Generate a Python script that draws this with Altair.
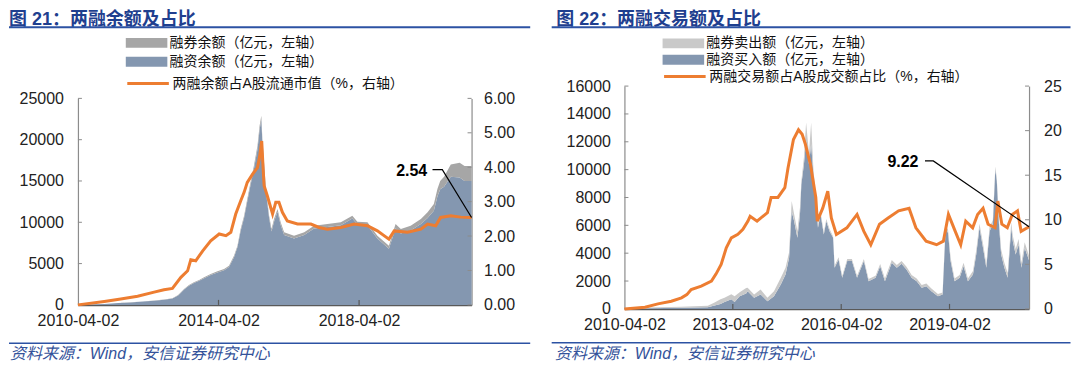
import altair as alt
import pandas as pd

# ---------------- left panel: 两融余额及占比 ----------------
L_T = [2010.25, 2010.60, 2011.00, 2011.40, 2011.75, 2012.10, 2012.42, 2012.70, 2012.94, 2013.10,
       2013.18, 2013.27, 2013.41, 2013.55, 2013.70, 2013.84, 2014.03, 2014.22, 2014.41, 2014.55,
       2014.69, 2014.79, 2014.88, 2014.98, 2015.07, 2015.17, 2015.26, 2015.36, 2015.42, 2015.47,
       2015.50, 2015.60, 2015.69, 2015.76, 2015.83, 2015.93, 2016.02, 2016.12, 2016.40, 2016.69,
       2016.97, 2017.35, 2017.73, 2018.06, 2018.20, 2018.49, 2018.77, 2019.10, 2019.29, 2019.44,
       2019.72, 2020.01, 2020.20, 2020.38, 2020.48, 2020.56, 2020.67, 2020.86, 2021.11, 2021.25,
       2021.45]
L_FIN = [0, 35, 110, 215, 300, 395, 490, 610, 760, 1140,
         1460, 1855, 2310, 2650, 2910, 3230, 3620, 3930, 4200, 4590,
         5780, 6970, 8960, 10540, 12520, 14680, 16450, 18820, 21190, 22400,
         19700, 13700, 10480, 8870, 10070, 11270, 9660, 8450, 8040, 8450,
         9250, 9440, 9650, 10450, 9720, 9650, 8050, 6800, 9290, 8650,
         9020, 9800, 10510, 11410, 13120, 13990, 14300, 15510, 15410, 15010,
         15010]
L_SHORT = [0, 5, 10, 15, 20, 25, 30, 40, 50, 60,
           70, 80, 90, 100, 110, 120, 130, 140, 150, 160,
           180, 200, 230, 260, 300, 350, 400, 450, 500, 500,
           370, 320, 320, 320, 330, 340, 340, 340, 340, 340,
           340, 350, 350, 350, 350, 350, 330, 370, 500, 540,
           570, 600, 700, 800, 900, 1000, 1200, 1500, 1800, 1800,
           1800]
L_RT = [2010.25, 2011.00, 2011.47, 2011.95, 2012.42, 2012.70, 2012.94, 2013.18, 2013.37, 2013.46,
        2013.60, 2013.80, 2014.03, 2014.27, 2014.46, 2014.60, 2014.74, 2014.88, 2014.98, 2015.07,
        2015.22, 2015.36, 2015.42, 2015.48, 2015.52, 2015.55, 2015.64, 2015.79, 2015.88, 2015.97,
        2016.07, 2016.21, 2016.50, 2016.88, 2017.11, 2017.35, 2017.73, 2018.11, 2018.49, 2018.77,
        2019.10, 2019.25, 2019.63, 2020.01, 2020.20, 2020.43, 2020.57, 2020.86, 2021.14, 2021.45]
L_RATIO = [0.00, 0.10, 0.17, 0.25, 0.37, 0.44, 0.48, 0.80, 0.99, 1.31,
           1.28, 1.57, 1.86, 2.06, 2.01, 2.11, 2.64, 3.02, 3.27, 3.56,
           3.80, 3.99, 4.30, 4.76, 4.00, 3.46, 3.17, 2.64, 2.98, 2.98,
           2.69, 2.44, 2.35, 2.35, 2.25, 2.20, 2.25, 2.35, 2.30, 2.15,
           1.91, 2.15, 2.11, 2.20, 2.35, 2.30, 2.54, 2.59, 2.55, 2.54]
L_ANN_T = [2020.34, 2020.62, 2021.45]
L_ANN_V = [3.93, 3.93, 2.54]
L_LABEL_T, L_LABEL_V, L_LABEL = 2019.75, 3.90, "2.54"

# ---------------- right panel: 两融交易额及占比 ----------------
R_T = [2010.25, 2010.91, 2011.83, 2012.56, 2012.75, 2012.91, 2013.02, 2013.21, 2013.30, 2013.44,
       2013.62, 2013.66, 2013.84, 2014.02, 2014.21, 2014.39, 2014.58, 2014.71, 2014.81, 2014.88,
       2014.95, 2015.04, 2015.11, 2015.15, 2015.22, 2015.28, 2015.36, 2015.42, 2015.48, 2015.54,
       2015.61, 2015.68, 2015.77, 2015.84, 2015.93, 2016.03, 2016.07, 2016.18, 2016.28, 2016.42,
       2016.55, 2016.69, 2016.88, 2017.01, 2017.20, 2017.33, 2017.46, 2017.65, 2017.79, 2017.92,
       2018.06, 2018.20, 2018.34, 2018.48, 2018.61, 2018.75, 2018.93, 2019.06, 2019.14, 2019.21,
       2019.28, 2019.39, 2019.53, 2019.64, 2019.76, 2019.90, 2019.99, 2020.08, 2020.18, 2020.27,
       2020.36, 2020.45, 2020.52, 2020.56, 2020.62, 2020.68, 2020.77, 2020.86, 2020.96, 2021.00,
       2021.08, 2021.16, 2021.24, 2021.33, 2021.45]
R_BUY = [0, 40, 80, 120, 250, 350, 500, 700, 500, 900,
         1100, 1270, 800, 1035, 555, 910, 1750, 2470, 3670, 7020,
         6300, 5100, 6780, 8940, 10380, 12060, 10380, 11820, 9660, 7980,
         5820, 6780, 5340, 6300, 5580, 5100, 2950, 3550, 2230, 3430,
         3430, 2230, 3430, 1990, 2230, 3070, 1990, 3310, 2950, 3240,
         2830, 2230, 1990, 1510, 1630, 1270, 910, 1035, 5700, 5460,
         3430, 1990, 2230, 3070, 1990, 2470, 3910, 5820, 4380, 2950,
         5580, 6060, 10020, 9180, 6060, 3910, 2950, 2230, 5820, 4860,
         3900, 4620, 2950, 4380, 3500]
R_SELL = [0, 60, 80, 100, 200, 350, 300, 350, 400, 300,
          400, 240, 235, 355, 240, 360, 480, 480, 400, 720,
          500, 500, 500, 240, 500, 1320, 800, 1560, 500, 300,
          200, 200, 150, 150, 150, 100, 150, 150, 150, 150,
          150, 150, 150, 150, 150, 150, 200, 200, 200, 200,
          200, 200, 200, 200, 200, 200, 150, 150, 250, 250,
          250, 200, 200, 250, 200, 250, 300, 300, 300, 250,
          300, 300, 200, 200, 300, 350, 350, 350, 400, 400,
          400, 400, 350, 400, 300]
R_RT = [2010.25, 2010.82, 2011.18, 2011.55, 2011.83, 2011.98, 2012.10, 2012.38, 2012.66, 2012.79,
        2012.93, 2013.07, 2013.21, 2013.39, 2013.53, 2013.67, 2013.73, 2013.92, 2014.21, 2014.31,
        2014.50, 2014.69, 2014.78, 2014.93, 2015.07, 2015.17, 2015.26, 2015.40, 2015.55, 2015.59,
        2015.74, 2015.88, 2015.98, 2016.12, 2016.41, 2016.69, 2016.88, 2017.07, 2017.31, 2017.55,
        2017.84, 2018.13, 2018.32, 2018.60, 2018.89, 2019.08, 2019.22, 2019.41, 2019.56, 2019.70,
        2019.89, 2020.03, 2020.18, 2020.32, 2020.51, 2020.59, 2020.70, 2020.85, 2020.99, 2021.13,
        2021.23, 2021.45]
R_RATIO = [0.00, 0.19, 0.56, 0.86, 1.24, 1.60, 2.18, 2.55, 3.11, 3.93,
           4.99, 6.85, 7.97, 8.36, 8.92, 9.85, 10.40, 9.85, 10.80, 12.50,
           12.50, 13.60, 15.80, 19.00, 20.10, 19.60, 18.50, 16.20, 12.50, 9.85,
           11.30, 13.20, 10.20, 8.35, 9.10, 10.60, 8.70, 7.20, 9.50, 10.20,
           11.00, 11.30, 9.10, 7.60, 7.20, 7.60, 10.60, 8.70, 7.20, 9.85,
           9.10, 10.60, 11.30, 9.50, 9.10, 12.10, 9.50, 9.10, 10.60, 11.00,
           8.70, 9.22]
R_ANN_T = [2018.57, 2018.80, 2021.45]
R_ANN_V = [16.6, 16.6, 9.22]
R_LABEL_T, R_LABEL_V, R_LABEL = 2017.96, 16.47, "9.22"

SOURCE = "资料来源：Wind，安信证券研究中心"

FONT = "Liberation Sans, Arial, Noto Sans CJK SC, sans-serif"
CJK = "Liberation Sans, Noto Sans CJK SC, sans-serif"
BLUE_AREA = "#8497b0"
ORANGE = "#ed7d31"
TITLE_BLUE = "#1f3f8f"
RULE_BLUE = "#2c52a3"

RECT = "M-2.6,-0.62H2.6V0.62H-2.6Z"
LINE = "M-2.6,0H2.6"


def to_date(t):
    y = int(t)
    return (pd.Timestamp(year=y, month=1, day=1) + pd.Timedelta(days=(t - y) * 365.25)).normalize()


def one_row():
    return pd.DataFrame({"k": [0]})


def make_panel(c):
    W, H, top = c["W"], c["H"], c["top_px"]
    xscale = alt.Scale(domain=[alt.DateTime(year=2010, month=4, date=2),
                               alt.DateTime(year=2021, month=6, date=14)], nice=False)
    xaxis = alt.Axis(values=[alt.DateTime(year=y, month=4, date=2) for y in c["xyears"]],
                     format="%Y-%m-%d", labelFontSize=16, labelFont=FONT, labelColor="#222",
                     labelPadding=8, labelFlush=False, labelAngle=0, labelOverlap=False,
                     ticks=False, tickSize=0, domainColor="#595959", domainWidth=1.5,
                     grid=False, title=None)
    X = alt.X("date:T", scale=xscale, axis=xaxis)

    yl_scale = alt.Scale(domain=[0, c["ylmax"]], nice=False, range=[H, top])
    yl_axis = alt.Axis(orient="left", values=c["ylvals"], format="d", labelFontSize=16,
                       labelFont=FONT, labelColor="#222", labelPadding=c["lpadL"], ticks=False,
                       tickSize=0, domainColor="#8c8c8c", domainWidth=1.2, grid=False, title=None)
    yr_scale = alt.Scale(domain=[0, c["yrmax"]], nice=False, range=[H, top])
    yr_axis = alt.Axis(orient="right", values=c["yrvals"], format=c["yrfmt"], labelFontSize=16,
                       labelFont=FONT, labelColor="#222", labelPadding=c["lpadR"], ticks=False,
                       tickSize=0, domainColor="#8c8c8c", domainWidth=1.2, grid=False, title=None)

    rows = []
    for t, a, b in zip(c["t"], c["bottom"], c["top"]):
        d = to_date(t)
        rows.append({"date": d, "val": a, "series": c["name_bottom"], "ord": 0})
        rows.append({"date": d, "val": b, "series": c["name_top"], "ord": 1})
    df_area = pd.DataFrame(rows)

    df_ratio = pd.DataFrame({"date": [to_date(t) for t in c["rt"]], "r": c["ratio"],
                             "name": c["name_line"]})

    area = alt.Chart(df_area).mark_area(opacity=1, strokeWidth=0).encode(
        x=X,
        y=alt.Y("val:Q", stack="zero", scale=yl_scale, axis=yl_axis),
        fill=alt.Fill("series:N",
                      scale=alt.Scale(domain=[c["name_top"], c["name_bottom"]],
                                      range=[c["gray"], BLUE_AREA]),
                      legend=alt.Legend(orient="none", legendX=c["legX"], legendY=c["legY1"],
                                        title=None, direction="vertical", symbolType=RECT,
                                        symbolSize=256, symbolStrokeWidth=0, symbolOpacity=1,
                                        labelFontSize=14, labelFont=CJK, labelColor="#111",
                                        labelOffset=15, rowPadding=c["rowpad"], padding=0,
                                        labelLimit=500)),
        order=alt.Order("ord:Q"),
    )
    ticks_l = alt.Chart(pd.DataFrame({"val": c["ylvals"]})).mark_rule(
        color="#8c8c8c", strokeWidth=1).encode(
        y=alt.Y("val:Q", scale=yl_scale, axis=yl_axis), x=alt.value(0), x2=alt.value(4))

    line = alt.Chart(df_ratio).mark_line(strokeWidth=3).encode(
        x=X,
        y=alt.Y("r:Q", scale=yr_scale, axis=yr_axis),
        stroke=alt.Stroke("name:N", scale=alt.Scale(domain=[c["name_line"]], range=[ORANGE]),
                          legend=alt.Legend(orient="none", legendX=c["legX2"], legendY=c["legY2"],
                                            title=None, symbolType=LINE, symbolSize=256,
                                            symbolStrokeWidth=3, labelFontSize=14, labelFont=CJK,
                                            labelColor="#111", labelOffset=c["loff2"], padding=0,
                                            labelLimit=500)),
    )
    ticks_r = alt.Chart(pd.DataFrame({"r": c["yrvals"]})).mark_rule(
        color="#8c8c8c", strokeWidth=1).encode(
        y=alt.Y("r:Q", scale=yr_scale, axis=yr_axis), x=alt.value(W - 4), x2=alt.value(W))
    ann_line = alt.Chart(pd.DataFrame({"date": [to_date(t) for t in c["ann_t"]],
                                       "r": c["ann_v"]})).mark_line(
        color="#000", strokeWidth=1.2).encode(x=X, y=alt.Y("r:Q", scale=yr_scale, axis=yr_axis))
    ann_text = alt.Chart(pd.DataFrame({"date": [to_date(c["lab_t"])], "r": [c["lab_v"]],
                                       "label": [c["lab"]]})).mark_text(
        fontSize=16, fontWeight="bold", font=FONT, color="#000", align="center",
        baseline="middle").encode(x=X, y=alt.Y("r:Q", scale=yr_scale, axis=yr_axis),
                                  text="label:N")

    x_ticks = alt.Chart(pd.DataFrame({"date": [pd.Timestamp(year=y, month=4, day=2)
                                               for y in c["xyears"][1:]]})).mark_rule(
        color="#595959", strokeWidth=1.2).encode(x=X, y=alt.value(H - 5), y2=alt.value(H))

    # invisible spacer that fixes the upper extent of the panel (keeps the title glyphs on-page)
    spacer = alt.Chart(one_row()).mark_rule(strokeOpacity=0, strokeWidth=1, color="white").encode(
        x=alt.value(c["rx1"]), x2=alt.value(c["rx1"] + 10), y=alt.value(c["ty"] - 16.5))
    title = alt.Chart(one_row()).mark_text(
        align="left", baseline="alphabetic", fontSize=18, fontWeight="bold", font=CJK,
        color=TITLE_BLUE).encode(x=alt.value(c["tx"]), y=alt.value(c["ty"]),
                                 text=alt.value(c["title"]))
    rule_top = alt.Chart(one_row()).mark_rule(color=RULE_BLUE, strokeWidth=2).encode(
        x=alt.value(c["rx1"]), x2=alt.value(c["rx2"]), y=alt.value(c["ry1"]))
    rule_bot = alt.Chart(one_row()).mark_rule(color=RULE_BLUE, strokeWidth=1.5).encode(
        x=alt.value(c["rx1"]), x2=alt.value(c["rx2"]), y=alt.value(c["ry2"]))
    source = alt.Chart(one_row()).mark_text(
        align="left", baseline="alphabetic", fontSize=16, fontStyle="italic", font=CJK,
        color="#34529a").encode(x=alt.value(c["sx"]), y=alt.value(c["sy"]),
                                text=alt.value(SOURCE))

    inner_l = alt.layer(area, ticks_l)
    inner_r = alt.layer(line, ticks_r, ann_line, ann_text)
    return alt.layer(inner_l, inner_r, x_ticks, spacer, title, rule_top, rule_bot,
                     source).resolve_scale(y="independent").properties(width=W, height=H)


# both panels share a group origin at the right chart's plot top; the left plot
# starts 12.3 px lower inside its group (via the y range)
left = make_panel(dict(
    W=394, H=219, top_px=12.3, xyears=[2010, 2014, 2018],
    ylmax=25000, ylvals=[0, 5000, 10000, 15000, 20000, 25000], lpadL=14.5,
    yrmax=6, yrvals=[0, 1, 2, 3, 4, 5, 6], yrfmt=".2f", lpadR=12,
    t=L_T, bottom=L_FIN, top=L_SHORT,
    name_bottom="融资余额（亿元，左轴）", name_top="融券余额（亿元，左轴）",
    name_line="两融余额占A股流通市值（%，右轴）", gray="#a6a6a6",
    rt=L_RT, ratio=L_RATIO, ann_t=L_ANN_T, ann_v=L_ANN_V,
    lab_t=L_LABEL_T, lab_v=L_LABEL_V, lab=L_LABEL,
    legX=60.7, legY1=-51.3, rowpad=4, legX2=60.7, legY2=-12, loff2=15,
    title="图 21：两融余额及占比", tx=-69, ty=-60.8,
    rx1=-69, rx2=452.7, ry1=-59.5 + 0.5, ry2=257.3, sx=-68, sy=273.5,
))

right = make_panel(dict(
    W=405, H=223, top_px=0, xyears=[2010, 2013, 2016, 2019],
    ylmax=16000, ylvals=[0, 2000, 4000, 6000, 8000, 10000, 12000, 14000, 16000], lpadL=14,
    yrmax=25, yrvals=[0, 5, 10, 15, 20, 25], yrfmt="d", lpadR=14.5,
    t=R_T, bottom=R_BUY, top=R_SELL,
    name_bottom="融资买入额（亿元，左轴）", name_top="融券卖出额（亿元，左轴）",
    name_line="两融交易额占A股成交额占比（%，右轴）", gray="#c9c9c9",
    rt=R_RT, ratio=R_RATIO, ann_t=R_ANN_T, ann_v=R_ANN_V,
    lab_t=R_LABEL_T, lab_v=R_LABEL_V, lab=R_LABEL,
    legX=51, legY1=-50.8, rowpad=1.5, legX2=51, legY2=-19, loff2=15,
    title="图 22：两融交易额及占比", tx=-68.3, ty=-60.8,
    rx1=-72.8, rx2=446.5, ry1=-59.5 + 0.5, ry2=257, sx=-69.5, sy=273.5,
))

chart = alt.hconcat(left, right, spacing=19).resolve_scale(
    fill="independent", stroke="independent").resolve_legend(
    fill="independent", stroke="independent").properties(
    padding={"left": 0, "top": 0, "right": 0, "bottom": 0}, background="white"
).configure_view(strokeWidth=0)

chart.save("out.html", embed_options={"renderer": "svg", "actions": False})
